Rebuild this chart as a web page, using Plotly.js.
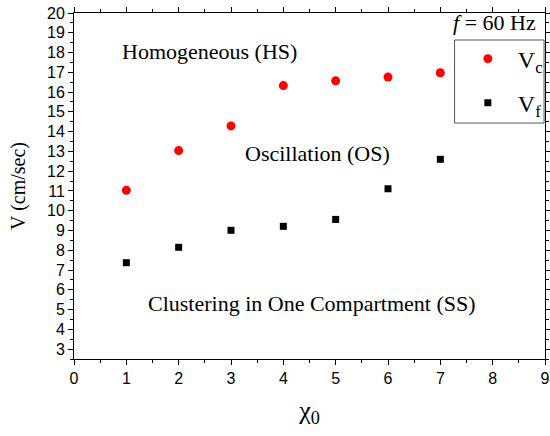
<!DOCTYPE html>
<html>
<head>
<meta charset="utf-8">
<script src="https://cdn.plot.ly/plotly-3.0.1.min.js"></script>
<style>html,body{margin:0;padding:0;background:#fff;}#chart{width:550px;height:436px;}</style>
</head>
<body>
<div id="chart"></div>
<script>
const chi0 = [1, 2, 3, 4, 5, 6, 7];
const Vc = [11.03, 13.04, 14.29, 16.33, 16.57, 16.76, 16.98];
const Vf = [7.37, 8.15, 9.01, 9.21, 9.56, 11.11, 12.60];
const regionLabels = ['Homogeneous (HS)', 'Oscillation (OS)', 'Clustering in One Compartment (SS)'];
const regionX = [2.58, 4.66, 4.54];
const regionY = [18.04, 12.87, 5.32];

const serif = 'Liberation Serif, Times New Roman, serif';
const sans = 'Liberation Sans, Arial, Helvetica, sans-serif';

const traces = [
  {x: chi0, y: Vc, type: 'scatter', mode: 'markers', name: 'V<sub>c</sub>',
   legendgroup: 'a',
   marker: {symbol: 'circle', size: 9, color: '#ff0000'}},
  {x: chi0, y: Vf, type: 'scatter', mode: 'markers', name: 'V<sub>f</sub>',
   legendgroup: 'b',
   marker: {symbol: 'square', size: 7, color: '#000000'}}
];

const axisCommon = {
  showline: true, linecolor: '#000', linewidth: 1, mirror: 'ticks',
  ticks: 'outside', ticklen: 5, tickcolor: '#000', tickwidth: 1,
  showgrid: false, zeroline: false, ticklabeloverflow: 'allow',
  tickfont: {family: sans, size: 16, color: '#000'}
};

const annotations = regionLabels.map((t, i) => ({
  x: regionX[i], y: regionY[i], xref: 'x', yref: 'y', text: t, showarrow: false,
  font: {family: serif, size: 22, color: '#000'}
}));
annotations.push({
  x: 0.985, y: 0.93, xref: 'paper', yref: 'paper', xanchor: 'right', yanchor: 'bottom',
  text: '<i>f</i> = 60 Hz', showarrow: false,
  font: {family: serif, size: 22, color: '#000'}
});

const layout = {
  width: 550, height: 436,
  margin: {l: 74, r: 2, t: 13, b: 77},
  paper_bgcolor: '#fff', plot_bgcolor: '#fff',
  showlegend: true,
  legend: {
    x: 0.815, y: 0.932, xanchor: 'left', yanchor: 'top',
    borderwidth: 0, bgcolor: 'rgba(255,255,255,0)',
    font: {family: serif, size: 24, color: '#000'},
    tracegroupgap: 10, itemwidth: 50
  },
  shapes: [{
    type: 'rect', xref: 'paper', yref: 'paper',
    x0: 0.808, x1: 0.998, y0: 0.682, y1: 0.922,
    line: {color: '#555', width: 1}
  }],
  xaxis: Object.assign({}, axisCommon, {
    range: [0, 9], dtick: 1, tick0: 0,
    minor: {dtick: 0.5, ticklen: 3, ticks: 'outside', tickcolor: '#000'},
    title: {text: 'χ<sub>0</sub>', font: {family: serif, size: 26, color: '#000'}, standoff: 14}
  }),
  yaxis: Object.assign({}, axisCommon, {
    range: [2.5, 20], dtick: 1, tick0: 0,
    minor: {dtick: 0.5, ticklen: 3, ticks: 'outside', tickcolor: '#000'},
    title: {text: 'V (cm/sec)', font: {family: serif, size: 20, color: '#000'}, standoff: 16}
  }),
  annotations: annotations
};

Plotly.newPlot('chart', traces, layout, {displayModeBar: false, staticPlot: true});
</script>
</body>
</html>
